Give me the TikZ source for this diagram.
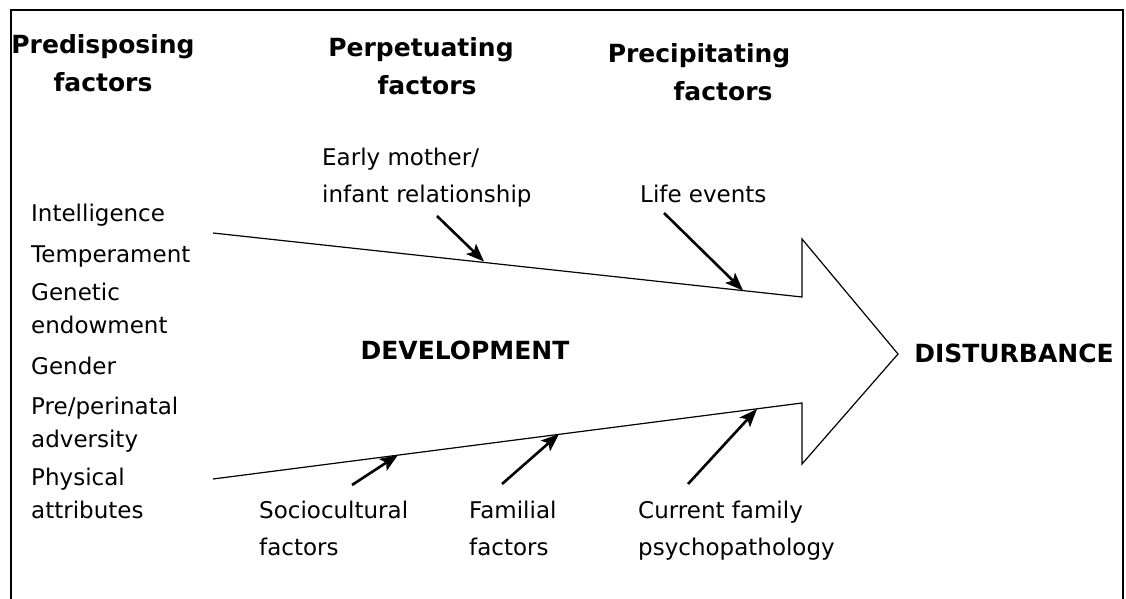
\documentclass[tikz,border=0pt]{standalone}
\usepackage{fontspec}
\setmainfont{DejaVu Sans}
\usetikzlibrary{arrows.meta}
\begin{document}
\begin{tikzpicture}[x=1pt,y=-1pt,
  hdr/.style={font=\fontsize{25}{38.5}\selectfont\bfseries, inner sep=0pt, align=center, anchor=base},
  lbl/.style={font=\fontsize{23}{33}\selectfont, inner sep=0pt, align=left, anchor=base west},
  lbltwo/.style={font=\fontsize{23}{36.5}\selectfont, inner sep=0pt, align=left, anchor=base west},
  shaft/.style={line width=1.2pt, line join=miter},
  infl/.style={line width=2.6pt, -{Stealth[length=18pt,width=14pt,inset=4pt]}},
  frameline/.style={line width=2pt}]
\useasboundingbox (0,0) rectangle (1126,599);
% frame
\draw[frameline] (11,605) -- (11,10) -- (1122.5,10) -- (1122.5,605);
% headings (base = baseline of last line)
\node[hdr] (pred) at (103,92) {Predisposing\\factors};
\node[hdr] (perp) at (421,95) {Perpetuating\\\hspace*{12pt}factors};
\node[hdr] (prec) at (699,101) {Precipitating\\\hspace*{48pt}factors};
% left column
\node[lbl] (intel) at (31,221) {Intelligence};
\node[lbl] (temp) at (31,262) {Temperament};
\node[lbl] (gen) at (31,333) {Genetic\\endowment};
\node[lbl] (gend) at (31,374) {Gender};
\node[lbl] (peri) at (31,447) {Pre/perinatal\\adversity};
\node[lbl] (phys) at (31,518) {Physical\\attributes};
% influences
\node[lbltwo] (early) at (322,202) {Early mother/\\infant relationship};
\node[lbltwo] (life) at (640,202) {Life events};
\node[lbltwo] (socio) at (259,555) {Sociocultural\\factors};
\node[lbltwo] (fam) at (469,555) {Familial\\factors};
\node[lbltwo] (curr) at (638,555) {Current family\\psychopathology};
% big arrow
\coordinate (s1) at (213,233);
\coordinate (s2) at (802,297);
\coordinate (h1) at (802,239);
\coordinate (tip) at (898,354);
\coordinate (h2) at (802,464);
\coordinate (s3) at (802,403);
\coordinate (s4) at (213,479);
\draw[shaft] (s1) -- (s2) -- (h1) -- (tip) -- (h2) -- (s3) -- (s4);
\node[hdr] (dev) at (465,359) {DEVELOPMENT};
\node[hdr] (dist) at (1014,362) {DISTURBANCE};
% influence arrows
\coordinate (ea) at (437,216); \coordinate (eb) at (484,261.5);
\coordinate (la) at (664,213); \coordinate (lb) at (743,290.5);
\coordinate (sa) at (352,485); \coordinate (sb) at (398,455);
\coordinate (fa) at (502,484); \coordinate (fb) at (559,434);
\coordinate (ca) at (688,484); \coordinate (cb) at (757,409);
\draw[infl] (ea) -- (eb);
\draw[infl] (la) -- (lb);
\draw[infl] (sa) -- (sb);
\draw[infl] (fa) -- (fb);
\draw[infl] (ca) -- (cb);
\end{tikzpicture}
\end{document}
